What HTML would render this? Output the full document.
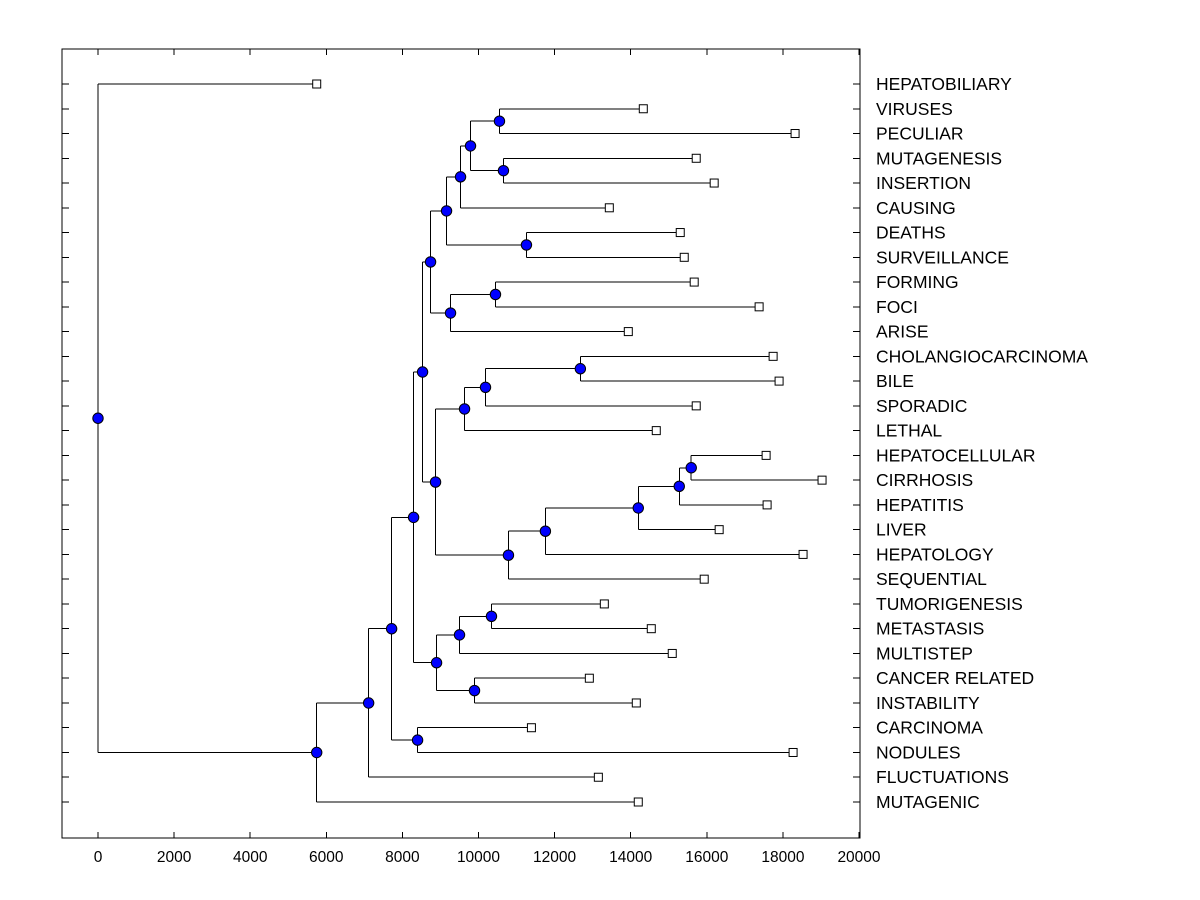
<!DOCTYPE html>
<html><head><meta charset="utf-8"><style>
body{margin:0;background:#fff;}
svg{display:block;font-family:"Liberation Sans",Arial,sans-serif;}
</style></head><body>
<svg id="chart" width="1200" height="900" xmlns="http://www.w3.org/2000/svg">
<rect width="1200" height="900" fill="#fff"/>
</svg>
<script>
const labels=["HEPATOBILIARY","VIRUSES","PECULIAR","MUTAGENESIS","INSERTION","CAUSING","DEATHS","SURVEILLANCE","FORMING","FOCI","ARISE","CHOLANGIOCARCINOMA","BILE","SPORADIC","LETHAL","HEPATOCELLULAR","CIRRHOSIS","HEPATITIS","LIVER","HEPATOLOGY","SEQUENTIAL","TUMORIGENESIS","METASTASIS","MULTISTEP","CANCER RELATED","INSTABILITY","CARCINOMA","NODULES","FLUCTUATIONS","MUTAGENIC"];
const leafValues=[5748,14331,18320,15722,16194,13438,15302,15407,15669,17375,13937,17743,17900,15722,14672,17559,19029,17585,16325,18530,15932,13307,14541,15092,12913,14147,11391,18268,13150,14199];
const nodeNames=["root","A","B","C","D","E","F","G","H","I","J","K","L","M","N","O","P","Q","R","S","T","U","V","W","X","Y","Z","AA","AB"];
const nodeHeights=[0,5748,7113,7717,8294,8399,8530,8898,9501,9895,10341,8740,8871,9160,9265,9528,11260,9790,10551,10656,10446,9633,10787,10184,12677,11758,14199,15276,15591];
const nodeChildren=[[0,"A"],["B",29],["C",28],["D","E"],["F","G"],[26,27],["K","L"],["H","I"],["J",23],[24,25],[21,22],["M","N"],["U","V"],["O","P"],["T",10],["Q",5],[6,7],["R","S"],[1,2],[3,4],[8,9],["W",14],["Y",20],["X",13],[11,12],["Z",19],["AA",18],["AB",17],[15,16]];
const xTicks=[0,2000,4000,6000,8000,10000,12000,14000,16000,18000,20000];

const svg=document.getElementById('chart');
const NS="http://www.w3.org/2000/svg";
const L=62,R=860,T=49,B=838;
const X0=98,X1=859;
function xs(v){return X0+(v/20000)*(X1-X0);}
function ys(i){return 84+i*(802-84)/(labels.length-1);}
function mk(tag,attrs,parent){const e=document.createElementNS(NS,tag);for(const k in attrs)e.setAttribute(k,attrs[k]);(parent||svg).appendChild(e);return e;}

const box=mk('rect',{x:L,y:T,width:R-L,height:B-T,fill:'none',stroke:'#000','stroke-width':1,'shape-rendering':'crispEdges'});



xTicks.forEach(t=>{
  const x=xs(t);
  mk('line',{x1:x,y1:T,x2:x,y2:T+6,stroke:'#000','shape-rendering':'crispEdges'});
  mk('line',{x1:x,y1:B,x2:x,y2:B-6,stroke:'#000','shape-rendering':'crispEdges'});
  const tx=mk('text',{x:x,y:862,'font-size':15.5,'text-anchor':'middle',fill:'#000'});
  tx.textContent=t;
  
  
});
labels.forEach((lab,i)=>{
  const y=ys(i);
  mk('line',{x1:L,y1:y,x2:L+7,y2:y,stroke:'#000','shape-rendering':'crispEdges'});
  mk('line',{x1:R,y1:y,x2:R-7,y2:y,stroke:'#000','shape-rendering':'crispEdges'});
  const tx=mk('text',{x:876,y:y+6,'font-size':17.5,fill:'#000'});
  tx.textContent=lab;
  
  
});

const pos={};
function place(key){
  if(typeof key==='number') return {x:xs(leafValues[key]),y:ys(key)};
  if(pos[key]) return pos[key];
  const i=nodeNames.indexOf(key);
  const cs=nodeChildren[i].map(place);
  const p={x:xs(nodeHeights[i]),y:(cs[0].y+cs[1].y)/2,cs:cs};
  pos[key]=p;return p;
}
place("root");
const lines=mk('g',{stroke:'#000','stroke-width':1,fill:'none','shape-rendering':'crispEdges'});


nodeNames.forEach(n=>{
  const p=pos[n];
  mk('line',{x1:p.x,y1:p.cs[0].y,x2:p.x,y2:p.cs[1].y},lines);
  p.cs.forEach(c=>mk('line',{x1:p.x,y1:c.y,x2:c.x,y2:c.y},lines));
});
labels.forEach((lab,i)=>{
  const x=xs(leafValues[i]),y=ys(i);
  const r=mk('rect',{x:x-4,y:y-4,width:8,height:8,fill:'#fff',stroke:'#000'});
  
  
});
nodeNames.forEach(n=>{
  const p=pos[n];
  const c=mk('circle',{cx:p.x,cy:p.y,r:5.2,fill:'#0000ff',stroke:'#000','stroke-width':1});
  
  
});
</script>
</body></html>
